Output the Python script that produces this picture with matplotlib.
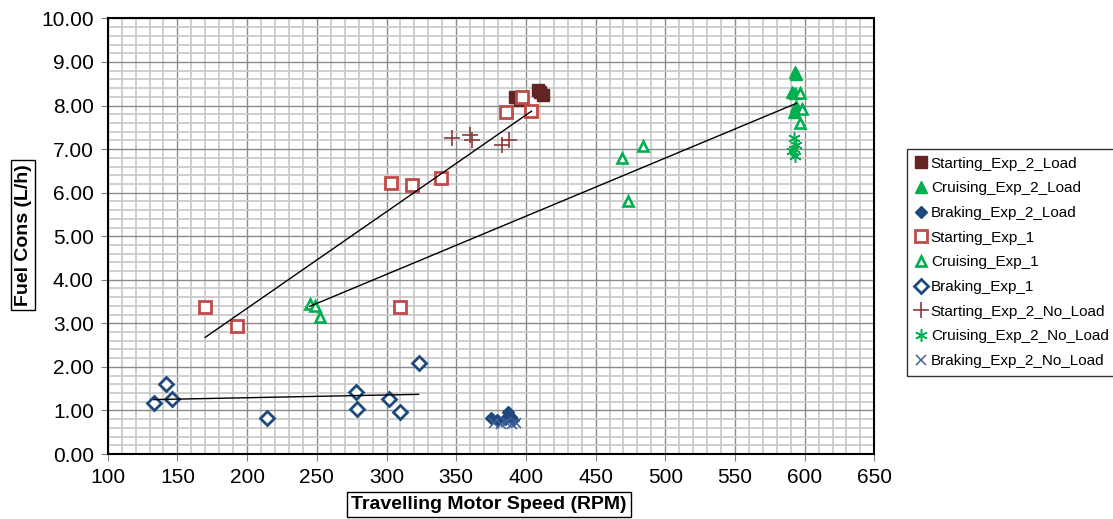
import matplotlib
matplotlib.use("Agg")
import matplotlib.pyplot as plt
from matplotlib.ticker import MultipleLocator, FormatStrFormatter

plt.rcParams['font.family'] = ['Liberation Sans', 'DejaVu Sans']

# 数据
start_load_rpm = [392, 396, 409, 412, 410]
start_load_fuel = [8.20, 8.12, 8.36, 8.24, 8.30]

cruise_load_rpm = [593, 594, 591, 593, 594, 592]
cruise_load_fuel = [8.78, 8.72, 8.32, 8.28, 7.98, 7.86]

brake_load_rpm = [375, 379, 387, 389, 391, 385]
brake_load_fuel = [0.82, 0.78, 0.96, 0.84, 0.78, 0.80]

start_exp1_rpm = [170, 193, 303, 318, 339, 310, 386, 404, 397]
start_exp1_fuel = [3.38, 2.95, 6.22, 6.17, 6.33, 3.38, 7.86, 7.87, 8.20]

cruise_exp1_rpm = [245, 249, 252, 469, 484, 473, 597, 598, 597]
cruise_exp1_fuel = [3.45, 3.39, 3.14, 6.80, 7.07, 5.80, 8.28, 7.92, 7.60]

brake_exp1_rpm = [133, 142, 146, 214, 278, 279, 302, 310, 323]
brake_exp1_fuel = [1.18, 1.60, 1.27, 0.82, 1.42, 1.04, 1.27, 0.97, 2.10]

start_noload_rpm = [347, 360, 361, 383, 388]
start_noload_fuel = [7.25, 7.32, 7.22, 7.10, 7.22]

cruise_noload_rpm = [592, 594, 592, 593, 591]
cruise_noload_fuel = [7.25, 7.10, 7.00, 6.85, 6.95]

brake_noload_rpm = [377, 382, 386, 390, 393]
brake_noload_fuel = [0.72, 0.70, 0.74, 0.68, 0.72]

# 趋势线端点
trend_start_rpm = [170, 404]
trend_start_fuel = [2.68, 7.87]
trend_cruise_rpm = [245, 594]
trend_cruise_fuel = [3.39, 8.05]
trend_brake_rpm = [133, 323]
trend_brake_fuel = [1.25, 1.37]

x_ticks = list(range(100, 651, 50))
y_ticks = list(range(0, 11))

fig = plt.figure(figsize=(11.13, 5.19), dpi=100)
ax = fig.add_axes([0.0968, 0.1252, 0.6888, 0.8393])

maroon = '#632523'
green = '#00B050'
navy = '#1F497D'
red = '#BE4B48'

ax.plot(start_load_rpm, start_load_fuel, ls='none', marker='s', ms=9,
        color=maroon, label='Starting_Exp_2_Load', zorder=3)
ax.plot(cruise_load_rpm, cruise_load_fuel, ls='none', marker='^', ms=8,
        color=green, label='Cruising_Exp_2_Load', zorder=3)
ax.plot(brake_load_rpm, brake_load_fuel, ls='none', marker='D', ms=6.6,
        color=navy, label='Braking_Exp_2_Load', zorder=3)
ax.plot(start_exp1_rpm, start_exp1_fuel, ls='none', marker='s', ms=8,
        mfc='white', mec=red, mew=2, label='Starting_Exp_1', zorder=3)
ax.plot(cruise_exp1_rpm, cruise_exp1_fuel, ls='none', marker='^', ms=7,
        mfc='white', mec=green, mew=1.9, label='Cruising_Exp_1', zorder=3)
ax.plot(brake_exp1_rpm, brake_exp1_fuel, ls='none', marker='D', ms=7,
        mfc='white', mec=navy, mew=2, label='Braking_Exp_1', zorder=3)
ax.plot(start_noload_rpm, start_noload_fuel, ls='none', marker='+', ms=11,
        mew=1.2, color='#8B3A3A', label='Starting_Exp_2_No_Load', zorder=3)
ax.plot(cruise_noload_rpm, cruise_noload_fuel, ls='none', marker=(6, 2, 0), ms=9,
        mew=1.1, color=green, label='Cruising_Exp_2_No_Load', zorder=3)
ax.plot(brake_noload_rpm, brake_noload_fuel, ls='none', marker='x', ms=7,
        mew=1.1, color='#3F5F9A', label='Braking_Exp_2_No_Load', zorder=3)

for xs, ys in [(trend_start_rpm, trend_start_fuel),
               (trend_cruise_rpm, trend_cruise_fuel),
               (trend_brake_rpm, trend_brake_fuel)]:
    ax.plot(xs, ys, color='black', lw=1, zorder=4)

ax.set_xlim(100, 650)
ax.set_ylim(0, 10)
ax.set_xticks(x_ticks)
ax.set_yticks(y_ticks)
ax.yaxis.set_major_formatter(FormatStrFormatter('%.2f'))
ax.xaxis.set_minor_locator(MultipleLocator(10))
ax.yaxis.set_minor_locator(MultipleLocator(0.2))
ax.grid(which='minor', color='#cbcbcb', lw=1.3, zorder=0)
ax.grid(which='major', color='#8a8a8a', lw=1.0, zorder=1)
ax.set_axisbelow(True)
ax.tick_params(which='major', direction='out', length=5, color='#808080',
               labelsize=15, pad=5)
ax.tick_params(which='minor', length=0)
for sp in ax.spines.values():
    sp.set_color('black')
    sp.set_linewidth(1.5)

box = dict(boxstyle='square,pad=0.2', fc='white', ec='black', lw=1)
fig.text(0.4393, 0.028, 'Travelling Motor Speed (RPM)', fontsize=14,
         fontweight='bold', ha='center', va='center', bbox=box)
fig.text(0.0207, 0.5472, 'Fuel Cons (L/h)', fontsize=14, fontweight='bold',
         rotation=90, ha='center', va='center', bbox=box)

leg = ax.legend(loc='upper left', bbox_to_anchor=(0.815, 0.713),
                bbox_transform=fig.transFigure, fontsize=11, frameon=True,
                fancybox=False, edgecolor='black', labelspacing=0.7,
                handlelength=0.8, handletextpad=0.25, borderpad=0.5,
                borderaxespad=0)
leg.get_frame().set_linewidth(1)

fig.savefig('out.png', dpi=100)
